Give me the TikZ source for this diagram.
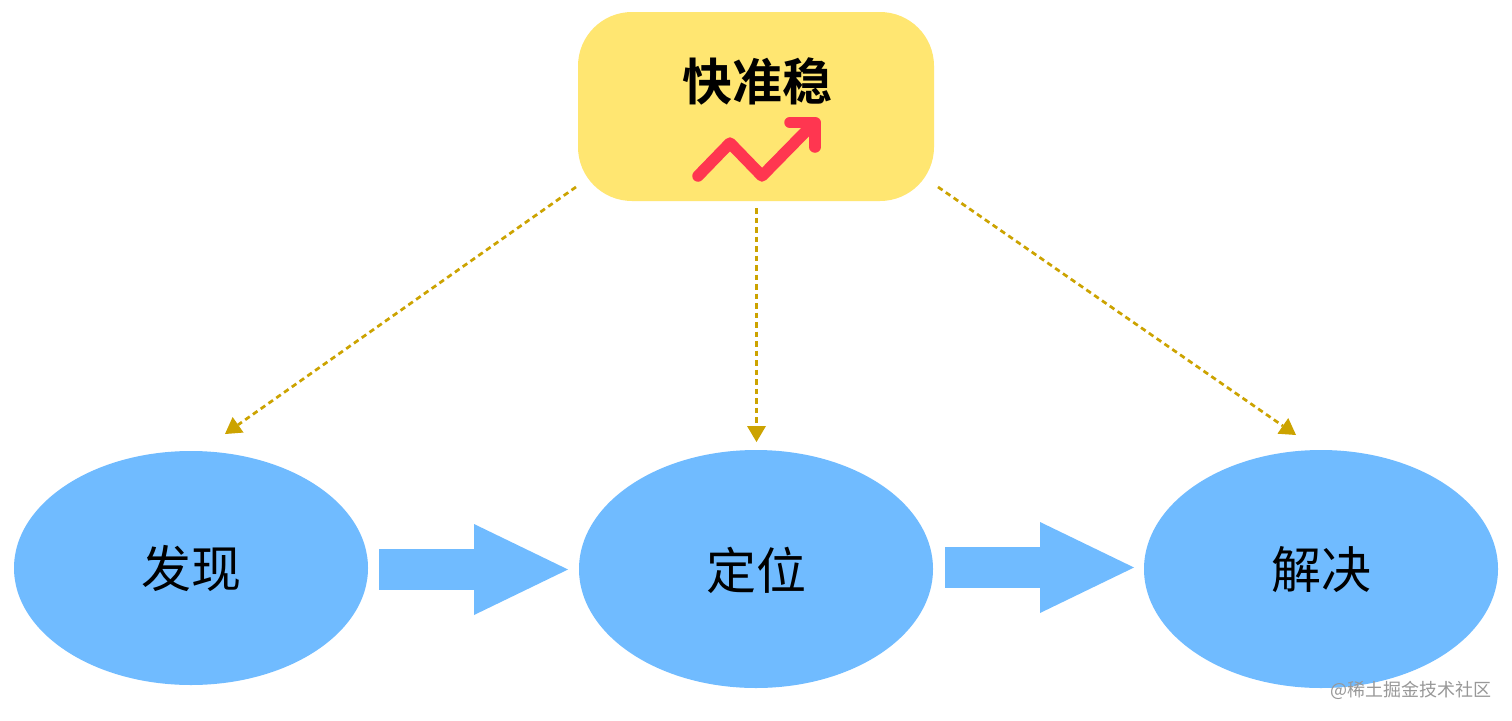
\documentclass[tikz,border=0pt]{standalone}
\usepackage{fontspec}
\setmainfont{Noto Sans CJK SC}
\newfontfamily\cjkbold{Noto Sans CJK SC Bold}
\usetikzlibrary{arrows.meta,shapes.geometric}
\definecolor{boxyellow}{HTML}{FFE671}
\definecolor{stageblue}{HTML}{70BBFF}
\definecolor{trendred}{HTML}{FF3650}
\definecolor{linkgold}{HTML}{CCA300}
\definecolor{markgray}{HTML}{989898}
\tikzset{
  stage/.style={ellipse,fill=stageblue,inner sep=0pt,minimum width=354pt,minimum height=#1,font=\fontsize{50}{50}\selectfont,text depth=0pt},
  stagetext/.style={font=\fontsize{50}{50}\selectfont,inner sep=0pt},
  goalbox/.style={rounded corners=54pt,fill=boxyellow,minimum width=356pt,minimum height=189pt,inner sep=0pt},
  dashlink/.style={draw=linkgold,line width=2.7pt,dash pattern=on 5.5pt off 4pt,-{Triangle[length=16pt,width=19pt,line width=0pt,fill=linkgold]}},
  flow/.style={draw=stageblue,line width=41pt,-{Triangle[length=94pt,width=91pt,line width=0pt,fill=stageblue]}},
  trend/.style={draw=trendred,line width=11.5pt,line cap=round,line join=round}
}
\begin{document}
\begin{tikzpicture}[x=1pt,y=-1pt]
\useasboundingbox (0,0) rectangle (1512,720);
\fill[white] (0,0) rectangle (1512,720);
\node[goalbox] (goal) at (756,106.5) {};
\node[font=\fontsize{50}{50}\selectfont\cjkbold,inner sep=0pt] (goaltext) at (757.5,81) {快准稳};
\draw[trend] (698,176) -- (730,143) -- (762,176) -- (813,124);
\draw[trend] (790,122.5) -- (815,122.5) -- (815,147);
\node[stage=234pt] (find) at (191,568) {};
\node[stage=238pt] (locate) at (756,569) {};
\node[stage=238pt] (solve) at (1321,569) {};
\node[stagetext] (findtext) at (191.5,568.5) {发现};
\node[stagetext] (locatetext) at (756.5,570) {定位};
\node[stagetext] (solvetext) at (1321.5,570) {解决};
\coordinate (s1) at (576,187);
\coordinate (e1) at (225,434);
\coordinate (s2) at (756.5,208);
\coordinate (e2) at (756.5,442);
\coordinate (s3) at (938,187);
\coordinate (e3) at (1296,435);
\draw[dashlink] (s1) -- (e1);
\draw[dashlink] (s2) -- (e2);
\draw[dashlink] (s3) -- (e3);
\coordinate (f1s) at (379,569.5);
\coordinate (f1e) at (568,569.5);
\coordinate (f2s) at (945,567.5);
\coordinate (f2e) at (1134,567.5);
\draw[flow] (f1s) -- (f1e);
\draw[flow] (f2s) -- (f2e);
\node[font=\fontsize{18}{18}\selectfont,text=markgray,inner sep=0pt,anchor=east] (mark) at (1492,690) {@稀土掘金技术社区};
\end{tikzpicture}
\end{document}
